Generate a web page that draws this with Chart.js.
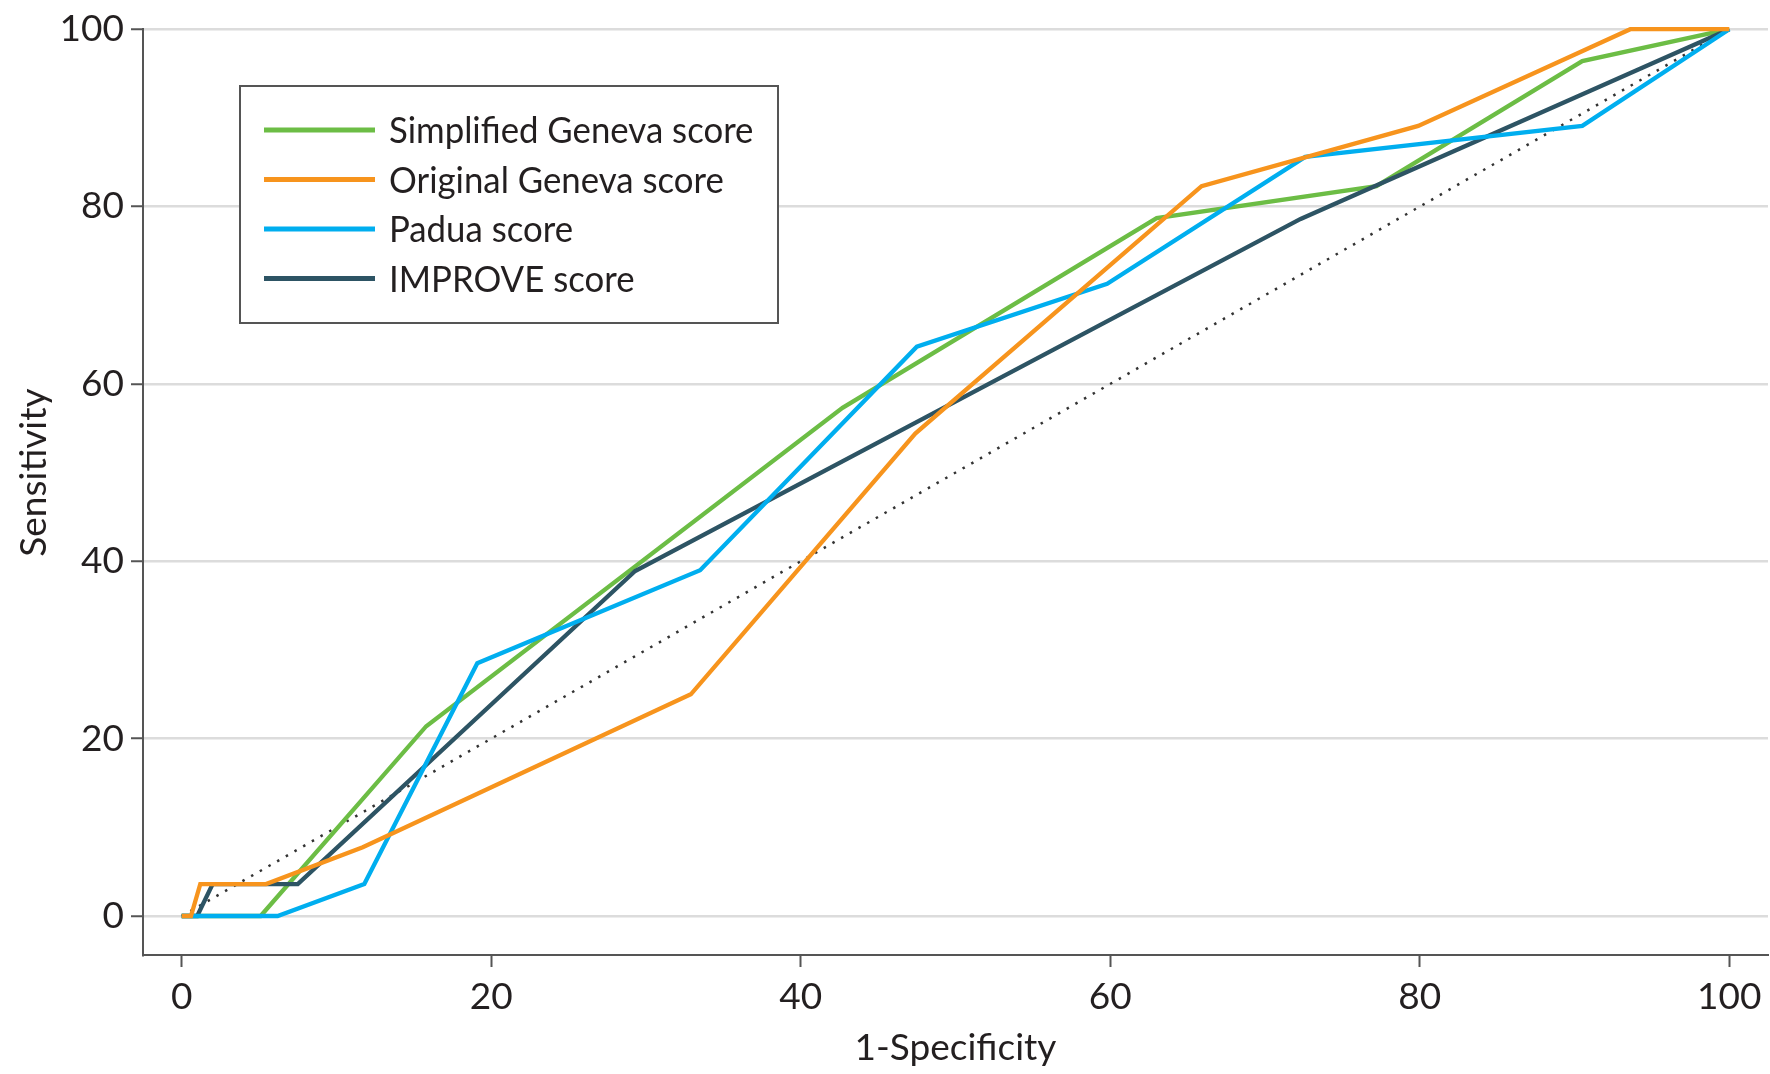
<!DOCTYPE html>
<html><head><meta charset="utf-8">
<script src="https://cdn.jsdelivr.net/npm/chart.js@4.4.0/dist/chart.umd.min.js"></script>
<style>html,body{margin:0;padding:0;background:#fff}#wrap{width:1770px;height:1074px}</style>
</head><body><div id="wrap"><canvas id="c" width="1770" height="1074"></canvas></div>
<script>
// ---- data ----
const xTicks = [0, 20, 40, 60, 80, 100];
const yTicks = [0, 20, 40, 60, 80, 100];
const seriesLabels = ['Simplified Geneva score', 'Original Geneva score', 'Padua score', 'IMPROVE score'];
const sgX = [0, 5.1, 15.8, 42.7, 63.0, 77.2, 90.5, 100];
const sgY = [0, 0, 21.4, 57.3, 78.7, 82.3, 96.4, 100];
const ogX = [0, 0.6, 1.2, 5.45, 11.7, 32.9, 47.4, 65.9, 79.9, 93.6, 100];
const ogY = [0, 0, 3.6, 3.6, 7.75, 25.0, 54.4, 82.3, 89.1, 100, 100];
const paX = [0, 6.2, 11.8, 19.1, 33.5, 47.5, 59.8, 72.6, 90.5, 100];
const paY = [0, 0, 3.6, 28.5, 39.0, 64.2, 71.3, 85.6, 89.1, 100];
const imX = [0, 1.0, 2.0, 7.5, 29.3, 72.3, 100];
const imY = [0, 0, 3.6, 3.6, 38.9, 78.6, 100];
const refX = [0, 100];
const refY = [0, 100];
const xTitle = '1-Specificity';
const yTitle = 'Sensitivity';

const pts = (xs, ys) => xs.map((x, i) => ({ x: x, y: ys[i] }));
const FONT = 'Lato';
const TEXT = '#231f20';

const line = (label, xs, ys, color, order) => ({
  label: label, data: pts(xs, ys), borderColor: color, backgroundColor: color,
  borderWidth: 4.3, pointRadius: 0, tension: 0, fill: false, order: order, inLegend: true,
  borderJoinStyle: 'miter', clip: 4
});

const datasets = [
  line(seriesLabels[0], sgX, sgY, '#6cbd45', 4),
  line(seriesLabels[1], ogX, ogY, '#f7941d', 1),
  line(seriesLabels[2], paX, paY, '#00aeef', 2),
  line(seriesLabels[3], imX, imY, '#2d5464', 3),
  { label: 'Reference', data: pts(refX, refY), borderColor: '#333', borderWidth: 2.5,
    borderDash: [2.5, 7.5], pointRadius: 0, tension: 0, fill: false, order: 5, inLegend: false }
];

const legendPlugin = {
  id: 'boxLegend',
  afterDraw(chart) {
    const ctx = chart.ctx;
    ctx.save();
    ctx.fillStyle = '#fff';
    ctx.fillRect(240, 86, 538, 237);
    ctx.strokeStyle = '#555';
    ctx.lineWidth = 2;
    ctx.strokeRect(240, 86, 538, 237);
    const items = chart.data.datasets.filter(d => d.inLegend);
    items.forEach((d, i) => {
      const y = 130 + i * 49.5;
      ctx.strokeStyle = d.borderColor;
      ctx.lineWidth = 5;
      ctx.beginPath(); ctx.moveTo(264, y); ctx.lineTo(375, y); ctx.stroke();
      ctx.save();
      ctx.fillStyle = TEXT;
      ctx.font = '37px ' + FONT;
      ctx.textAlign = 'left';
      ctx.textBaseline = 'alphabetic';
      ctx.translate(389, y + 13.3);
      ctx.scale(0.94, 1);
      ctx.fillText(d.label, 0, 0);
      ctx.restore();
    });
    ctx.restore();
  }
};

const titlePlugin = {
  id: 'axisTitles',
  afterDraw(chart) {
    const ctx = chart.ctx, xs = chart.scales.x, ys = chart.scales.y;
    ctx.save();
    ctx.fillStyle = TEXT;
    ctx.font = '37px ' + FONT;
    ctx.textAlign = 'center';
    ctx.textBaseline = 'alphabetic';
    ctx.fillText(xTitle, xs.getPixelForValue(50), 1060);
    ctx.translate(46, ys.getPixelForValue(50));
    ctx.rotate(-Math.PI / 2);
    ctx.fillText(yTitle, 0, 0);
    ctx.restore();
  }
};

new Chart(document.getElementById('c'), {
  type: 'line',
  data: { datasets: datasets },
  options: {
    responsive: false, devicePixelRatio: 1, animation: false,
    layout: { padding: { top: 26, right: 2, left: 0, bottom: 0 } },
    plugins: { legend: { display: false }, tooltip: { enabled: false } },
    scales: {
      x: {
        type: 'linear', min: -2.5, max: 102.5,
        afterFit(s) { s.height = 119; },
        afterBuildTicks(s) { s.ticks = xTicks.map(v => ({ value: v })); },
        grid: { drawOnChartArea: false, drawTicks: true, tickLength: 12, tickColor: '#555', tickWidth: 2 },
        border: { display: true, color: '#555', width: 2 },
        ticks: { font: { family: FONT, size: 37 }, color: TEXT, padding: 8, maxRotation: 0, autoSkip: false }
      },
      y: {
        type: 'linear', min: -4.4, max: 100,
        afterFit(s) { s.width = 143; },
        afterBuildTicks(s) { s.ticks = yTicks.map(v => ({ value: v })); },
        grid: { color: '#dcdcdc', lineWidth: 2.5, drawTicks: true, tickLength: 12, tickColor: '#555', tickWidth: 2 },
        border: { display: true, color: '#555', width: 2 },
        ticks: { font: { family: FONT, size: 37 }, color: TEXT, padding: 7, autoSkip: false }
      }
    }
  },
  plugins: [legendPlugin, titlePlugin]
});
</script>
</body></html>
